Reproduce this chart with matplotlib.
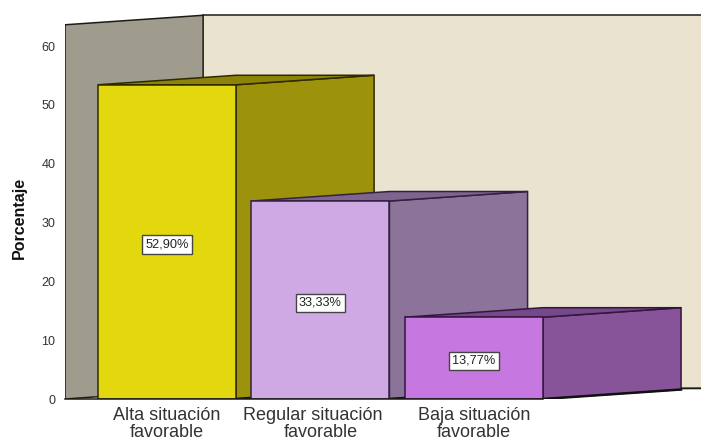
import matplotlib
matplotlib.use("Agg")
import matplotlib.pyplot as plt

# Data
categories = ["Alta situación\nfavorable", "Regular situación   \nfavorable", "Baja situación\nfavorable"]
values = [52.90, 33.33, 13.77]
value_labels = ["52,90%", "33,33%", "13,77%"]
y_ticks = [0, 10, 20, 30, 40, 50, 60]

# Colours
front_colors = ["#e3d80d", "#cfa9e3", "#c678e0"]
side_colors = ["#9c920b", "#8b7399", "#87549a"]
top_colors = ["#8c8308", "#7d6590", "#75488a"]
edge_colors = ["#2e2a00", "#33223f", "#33163f"]
wall_color = "#9f9b8d"
back_color = "#e9e3d0"
line_color = "#1c1c14"

# Fake 3D geometry, in data units
bar_width = 0.9
depth_x = 0.9
depth_y = 1.6
wall_left = -0.664
wall_top = 63
x_right = 3.48
tick_scale = 0.99  # ticks sit on the wall, slightly compressed

plt.rcParams["font.family"] = ["Liberation Sans", "DejaVu Sans"]

W, H = 701, 443
fig = plt.figure(figsize=(W / 100, H / 100), dpi=100)
# axes runs from the left wall edge to the right border, baseline at pixel 399
ax = fig.add_axes([65 / W, (H - 399) / H, (W - 65) / W, 399 / H])
ax.set_xlim(wall_left, x_right)
ax.set_ylim(0, 399 / 5.94)

# back wall and side wall
ax.fill([wall_left + depth_x, x_right, x_right, wall_left + depth_x],
        [depth_y, depth_y + 0.2, wall_top + depth_y, wall_top + depth_y],
        color=back_color, lw=0, zorder=1)
ax.plot([wall_left + depth_x, x_right], [wall_top + depth_y, wall_top + depth_y],
        color=line_color, lw=1.1, zorder=2)
ax.plot([wall_left + depth_x, x_right], [depth_y, depth_y + 0.2],
        color=line_color, lw=1.4, zorder=2)
ax.fill([wall_left, wall_left + depth_x, wall_left + depth_x, wall_left],
        [0, depth_y, wall_top + depth_y, wall_top],
        facecolor=wall_color, edgecolor=line_color, lw=1.1, zorder=2)

# bars, drawn left to right so each one covers the side of the previous one
z = 3
for i, v in enumerate(values):
    x0 = i - bar_width / 2
    x1 = i + bar_width / 2
    ec = edge_colors[i]
    ax.fill([x1, x1 + depth_x, x1 + depth_x, x1], [0, depth_y, v + depth_y, v],
            facecolor=side_colors[i], edgecolor=ec, lw=1.1, zorder=z)
    ax.plot([x1, x1 + depth_x], [0, depth_y], color="#111111", lw=1.8, zorder=z)
    ax.fill([x0, x1, x1 + depth_x, x0 + depth_x], [v, v, v + depth_y, v + depth_y],
            facecolor=top_colors[i], edgecolor=ec, lw=1.1, zorder=z)
    ax.bar(i, v, width=bar_width, color=front_colors[i], edgecolor=ec, lw=1.1, zorder=z + 1)
    ax.annotate(value_labels[i], (i, v / 2), xytext=(0, -2), textcoords="offset points",
                ha="center", va="center", fontsize=9.2, color="#222222", zorder=z + 2,
                bbox=dict(boxstyle="square,pad=0.25", fc="white", ec="#444444", lw=1.0))
    z += 3

ax.plot([wall_left, 2 + bar_width / 2], [0, 0], color=line_color, lw=1.1, zorder=z, clip_on=False)

for s in ax.spines.values():
    s.set_visible(False)
ax.patch.set_visible(False)

ax.set_yticks([t * tick_scale for t in y_ticks], [str(t) for t in y_ticks])
ax.tick_params(axis="y", length=0, pad=7, labelsize=9, labelcolor="#333333")
ax.set_xticks(range(len(categories)), categories)
ax.tick_params(axis="x", length=0, pad=5.5, labelsize=13, labelcolor="#333333")
for lab in ax.get_xticklabels():
    lab.set_linespacing(1.05)

fig.text(19 / W, 1 - 218 / H, "Porcentaje", rotation=90, ha="center", va="center",
         fontsize=11.5, fontweight="bold", color="#111111")

fig.savefig("out.png", dpi=100)
